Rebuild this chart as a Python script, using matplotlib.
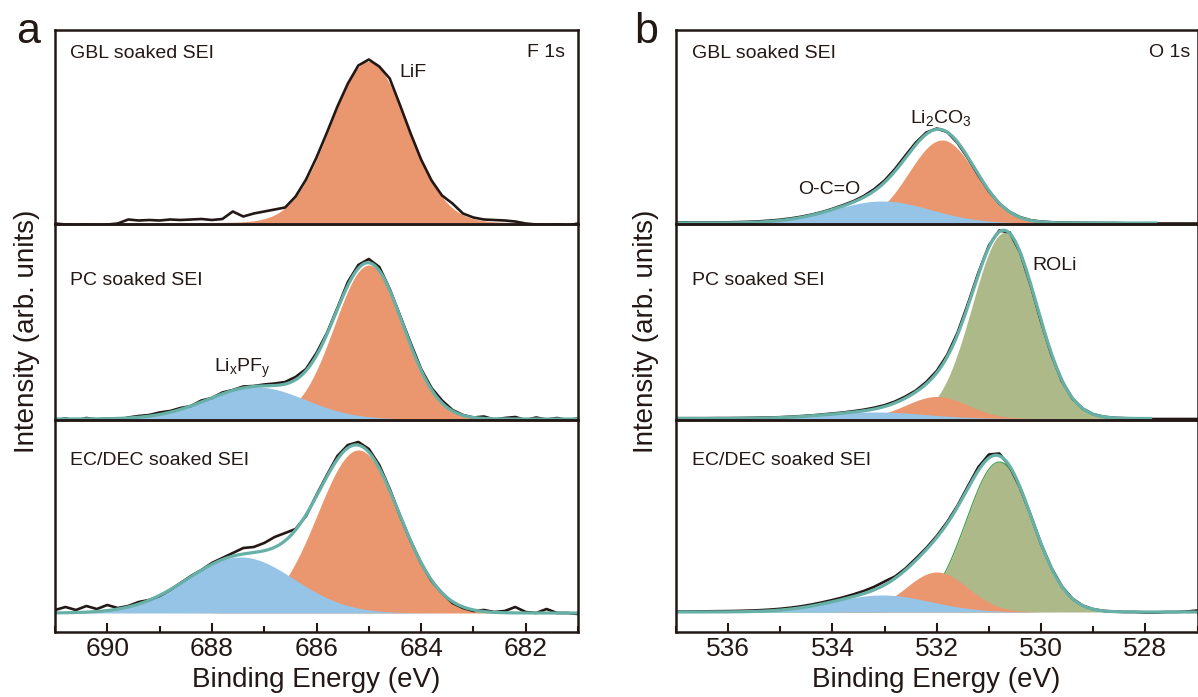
import numpy as np
import matplotlib
matplotlib.use('Agg')
import matplotlib.pyplot as plt
from matplotlib.ticker import MultipleLocator

plt.rcParams['font.family'] = ['Liberation Sans', 'DejaVu Sans']
plt.rcParams['mathtext.fontset'] = 'custom'
plt.rcParams['mathtext.rm'] = 'Liberation Sans'
plt.rcParams['mathtext.it'] = 'Liberation Sans:italic'
plt.rcParams['mathtext.bf'] = 'Liberation Sans:bold'

# ------------------------------------------------------------------ data
samples = ['GBL soaked SEI', 'PC soaked SEI', 'EC/DEC soaked SEI']

# measured spectra (intensity above baseline, arb. units), 0.2 eV steps
f1s_energy = np.linspace(691.0, 681.0, 51)
f1s_gbl = [-1, -2, -2.5, -2, -2.5, -2, -1, 3, 2, 2.5,
           2, 3, 2.5, 3, 3.5, 2.5, 3.5, 11, 6, 9,
           11, 13, 15, 26, 43, 65, 90, 116, 139, 157,
           163, 156, 144, 117, 89, 63, 42, 27, 19, 9,
           5, 3, 2.5, 2, 1, -1, -2, -2.5, -2, -3,
           -1]
f1s_pc = [-1, 0.5, -1.5, 1, -0.5, 0.5, -1, 1.5, 3, 4,
          6.5, 8, 11, 13, 18.5, 21, 26.5, 29, 32.5, 33,
          34.5, 35.5, 37, 42, 50, 66, 86, 111, 137, 154,
          160, 152, 130, 103, 76, 50, 31, 18.5, 9, 4,
          1.5, 2.5, -0.5, 1, 2, -1, 1.5, -0.5, 1, -1,
          0.5]
f1s_ecdec = [3, 6, 3, 7, 4, 8, 5, 7, 11, 13,
             17, 23, 30, 37, 43, 50, 55, 60, 65, 66,
             70, 76, 80, 84, 97, 118, 138, 157, 168, 171,
             164, 148, 124, 97, 72, 50, 32, 20, 10, 5,
             2, 3, 1, 2, 6, 1, 0, 4, 0, 0,
             -1]

o1s_energy = np.linspace(537.0, 527.0, 51)
o1s_gbl = [0.5, 0.5, 0.5, 0.5, 0.6, 0.7, 0.9, 1.2, 1.7, 2.4,
           3.3, 4.6, 6.3, 8.4, 11.0, 14.2, 17.8, 21.8, 27.0, 33.8,
           42.5, 54.0, 67.5, 80.5, 90.5, 94.5, 91.0, 80.0, 64.5, 47.5,
           31.8, 19.5, 11.0, 5.8, 2.8, 1.4, 0.8, 0.5, 0.3, 0.2,
           0.1, 0, 0, -0.3, -0.5, -0.5, -0.5, -0.5, -0.5, -0.5,
           -0.5]
o1s_pc = [0.3, 0.3, 0.3, 0.3, 0.4, 0.4, 0.5, 0.6, 0.8, 1.0,
          1.3, 1.8, 2.4, 3.1, 4.0, 5.0, 6.0, 7.3, 8.8, 10.8,
          13.3, 17.0, 22.0, 28.0, 36.5, 47.5, 63.5, 86.0, 115.0, 146.0,
          173.0, 188.0, 186.0, 166.0, 133.5, 97.0, 63.5, 37.5, 20.0, 9.8,
          4.3, 1.8, 0.7, 0.3, 0, -0.5, -0.5, -0.5, -0.5, -0.5,
          -0.5]
o1s_ecdec = [0.5, 0.5, 0.6, 0.7, 0.8, 0.9, 1.1, 1.4, 1.8, 2.4,
             3.2, 4.3, 5.7, 7.5, 9.6, 12.0, 14.6, 17.6, 21.0, 25.2,
             30.5, 35.5, 43.5, 53.5, 64.0, 76.0, 90.0, 106.5, 126.0, 145.0,
             157.5, 158.5, 145.5, 124.0, 97.0, 68.0, 44.0, 25.5, 13.4, 6.4,
             2.8, 1.1, 0.4, 0, 0, -0.5, -0.5, 0, 0, 0.5,
             1.5]

# fitted components: (species, centre eV, height, FWHM eV)
f1s_gbl_peaks = [('LiF', 685.0, 161, 1.72)]
f1s_pc_peaks = [('LixPFy', 687.15, 32, 2.2), ('LiF', 685.0, 154, 1.55)]
f1s_ecdec_peaks = [('LixPFy', 687.45, 56, 2.4), ('LiF', 685.2, 163, 1.84)]
o1s_gbl_peaks = [('O-C=O', 533.05, 22, 2.2), ('Li2CO3', 531.9, 83, 1.5)]
o1s_pc_peaks = [('O-C=O', 533.15, 6.5, 2.2), ('Li2CO3', 532.0, 22, 1.4),
                ('ROLi', 530.70, 186, 1.46)]
o1s_ecdec_peaks = [('O-C=O', 533.05, 17, 2.2), ('Li2CO3', 532.0, 40, 1.4),
                   ('ROLi', 530.8, 150, 1.5)]

# energy span of the drawn fit envelope (None = no envelope)
f1s_fit_span = [None, (691.0, 681.0), (691.0, 681.0)]
o1s_fit_span = [(537.0, 527.8), (537.0, 527.9), (537.0, 527.0)]

# ------------------------------------------------------------------ style
species_color = {'LiF': '#EA976F', 'Li2CO3': '#EA976F',
                 'LixPFy': '#96C4E6', 'O-C=O': '#96C4E6',
                 'ROLi': '#ADB989'}
TEAL = '#66B0A6'
BLACK = '#231815'

W, HP = 1198, 697
def fx(px):
    return px / W
def fy(py):
    return 1 - py / HP

fig = plt.figure(figsize=(W / 100, HP / 100), dpi=100)

# subplot pixel heights and baseline offsets (pixels above bottom spine)
sub_h = [194, 196, 212]
f1s_base = [1.5, 1.0, 19.0]
o1s_base = [1.0, 1.5, 20.0]

gsL = fig.add_gridspec(3, 1, left=fx(55), right=fx(578), top=fy(30),
                       bottom=fy(632), hspace=0, height_ratios=sub_h)
gsR = fig.add_gridspec(3, 1, left=fx(676), right=fx(1197.5), top=fy(30),
                       bottom=fy(632), hspace=0, height_ratios=sub_h)


def comp(x, c, h, w):
    return h * np.exp(-4 * np.log(2) * ((x - c) / w) ** 2)


def draw_panel(gs, energy, spectra, peaks_list, spans, bases, xlim,
               green_edge=False):
    axes = []
    for i in range(3):
        ax = fig.add_subplot(gs[i])
        axes.append(ax)
        xf = np.linspace(xlim[0], xlim[1], 1201)
        z = 1
        # the largest / lowest-energy component lies underneath
        for (name, c, h, w) in reversed(peaks_list[i]):
            y = comp(xf, c, h, w)
            ax.fill_between(xf, 0, y, color=species_color[name], lw=0,
                            zorder=z)
            if green_edge and name == 'ROLi' and i == 2:
                ax.plot(xf, y, color='#3E9B45', lw=0.8, zorder=z + 0.5)
            z += 1
        ax.plot(energy, spectra[i], color=BLACK, lw=1.9, zorder=5,
                solid_joinstyle='round')
        if spans[i] is not None:
            xs = np.linspace(spans[i][0], spans[i][1], 1201)
            tot = np.zeros_like(xs)
            for (name, c, h, w) in peaks_list[i]:
                tot += comp(xs, c, h, w)
            ax.plot(xs, tot, color=TEAL, lw=2.3, zorder=6)
        ax.set_xlim(xlim)
        ax.set_ylim(-bases[i], sub_h[i] - bases[i])
        ax.set_yticks([])
        for sp in ax.spines.values():
            sp.set_linewidth(1.8)
            sp.set_color(BLACK)
            sp.set_zorder(10)
        if i < 2:
            ax.tick_params(axis='x', bottom=False, labelbottom=False)
        else:
            ax.xaxis.set_major_locator(MultipleLocator(2))
            ax.xaxis.set_minor_locator(MultipleLocator(1))
            ax.tick_params(axis='x', which='major', direction='in',
                           length=6.7, width=1.5, labelsize=19, pad=3.5,
                           colors=BLACK, labelcolor=BLACK)
            ax.tick_params(axis='x', which='minor', direction='in',
                           length=4.3, width=1.5, colors=BLACK)
        ax.patch.set_alpha(0)
    return axes


axL = draw_panel(gsL, f1s_energy, [f1s_gbl, f1s_pc, f1s_ecdec],
                 [f1s_gbl_peaks, f1s_pc_peaks, f1s_ecdec_peaks],
                 f1s_fit_span, f1s_base, (691, 681))
axR = draw_panel(gsR, o1s_energy, [o1s_gbl, o1s_pc, o1s_ecdec],
                 [o1s_gbl_peaks, o1s_pc_peaks, o1s_ecdec_peaks],
                 o1s_fit_span, o1s_base, (537, 527), green_edge=True)

TXT = 14
label_y = [0.856, 0.689, 0.788]
for i in range(3):
    axL[i].text(0.0287, label_y[i], samples[i], transform=axL[i].transAxes,
                fontsize=TXT, va='baseline', ha='left', color=BLACK)
    axR[i].text(0.0307, label_y[i], samples[i], transform=axR[i].transAxes,
                fontsize=TXT, va='baseline', ha='left', color=BLACK)

axL[0].text(0.975, 0.861, 'F 1s', transform=axL[0].transAxes, fontsize=TXT,
            ha='right', va='baseline', color=BLACK)
axR[0].text(0.9866, 0.861, 'O 1s', transform=axR[0].transAxes, fontsize=TXT,
            ha='right', va='baseline', color=BLACK)

axL[0].text(684.42, 145.5, 'LiF', fontsize=TXT, va='baseline', color=BLACK,
            zorder=12)
axL[1].text(687.96, 47, r'$\mathregular{Li_xPF_y}$', fontsize=TXT,
            va='baseline', color=BLACK, zorder=12)
axR[0].text(534.66, 29, 'O-C=O', fontsize=TXT, va='baseline', color=BLACK,
            zorder=12)
axR[0].text(532.51, 100, r'$\mathregular{Li_2CO_3}$', fontsize=TXT,
            va='baseline', color=BLACK, zorder=12)
axR[1].text(530.17, 149, 'ROLi', fontsize=TXT, va='baseline', color=BLACK,
            zorder=12)

# panel letters and axis titles
fig.text(fx(16), fy(43), 'a', fontsize=31, va='baseline', ha='left',
         color=BLACK)
fig.text(fx(634), fy(43), 'b', fontsize=31, va='baseline', ha='left',
         color=BLACK)
for xc in (27, 646):
    fig.text(fx(xc), fy(331), 'Intensity (arb. units)', rotation=90,
             ha='center', va='center', fontsize=20, color=BLACK)
for xc in (316.5, 936.5):
    fig.text(fx(xc), fy(687), 'Binding Energy (eV)', ha='center',
             va='baseline', fontsize=20, color=BLACK)

fig.savefig('out.png', dpi=100)
